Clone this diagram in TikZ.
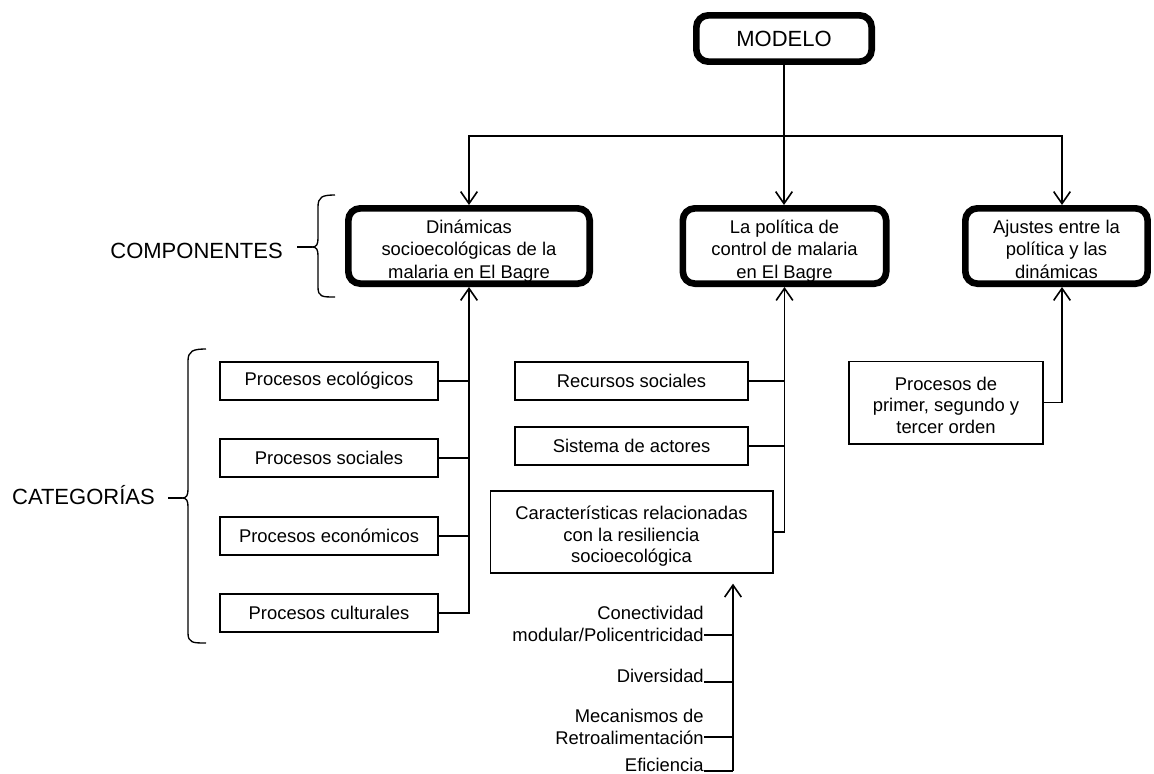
\documentclass[tikz,border=0pt]{standalone}
\usepackage{fontspec}
\setmainfont{Liberation Sans}
\usetikzlibrary{arrows.meta}
\begin{document}
\begin{tikzpicture}[x=0.75pt,y=-0.75pt,
  boxfont/.style={font=\fontsize{13.8}{16.1}\selectfont},
  bigfont/.style={font=\fontsize{16.5}{19}\selectfont},
  comp/.style={draw, line width=5pt, rounded corners=9pt, align=center, inner sep=0pt,
               font=\fontsize{13.8}{16.9}\selectfont, text height=48.4pt, text depth=0pt},
  item/.style={draw, line width=1pt, align=center, inner sep=0pt, boxfont},
  tall/.style={text height=46pt, text depth=0pt},
  lab/.style={align=right, inner sep=0pt, boxfont},
  link/.style={line width=1.2pt},
  arr/.style={link, -{Straight Barb[length=9pt,width=12.5pt]}},
  bracestyle/.style={line width=1pt},
]
\useasboundingbox (0,0) rectangle (1154,774);

% top level
\node[draw, line width=5pt, rounded corners=9pt, inner sep=0pt, bigfont,
      minimum width=131.5pt, minimum height=34.7pt] (modelo) at (784,38.5) {MODELO};

% components
\node[comp, minimum width=181pt, minimum height=56.5pt] (c1) at (469,246)
  {Dinámicas\\socioecológicas de la\\malaria en El Bagre};
\node[comp, minimum width=152.5pt, minimum height=56.5pt] (c2) at (784.5,246)
  {La política de\\control de malaria\\en El Bagre};
\node[comp, minimum width=136.7pt, minimum height=56.5pt] (c3) at (1056.5,246)
  {Ajustes entre la\\política y las\\dinámicas};

% model to components
\coordinate (bus) at (784,136);
\coordinate (c3in) at (1062,136);
\draw[link] (modelo.south) -- (bus);
\draw[arr] (bus) -- (bus |- c2.north);
\draw[arr] (bus) -| (c1.north);
\draw[arr] (bus) -| (c3in |- c3.north);

% categories
\node[item, minimum width=163.5pt, minimum height=28.5pt] (p1) at (329,381) {Procesos ecológicos};
\node[item, minimum width=163.5pt, minimum height=28.5pt] (p2) at (329,458) {Procesos sociales};
\node[item, minimum width=163.5pt, minimum height=28.5pt] (p3) at (329,536) {Procesos económicos};
\node[item, minimum width=163.5pt, minimum height=28.5pt] (p4) at (329,613) {Procesos culturales};
\draw[arr] (p4.east) -| (c1.south);
\draw[link] (p1.east) -- (p1.east -| c1.south);
\draw[link] (p2.east) -- (p2.east -| c1.south);
\draw[link] (p3.east) -- (p3.east -| c1.south);

% policy
\node[item, minimum width=174.75pt, minimum height=28.5pt] (r1) at (631.5,381) {Recursos sociales};
\node[item, minimum width=174.75pt, minimum height=28.5pt] (r2) at (631.5,446) {Sistema de actores};
\node[item, tall, minimum width=212pt, minimum height=61.5pt] (r3) at (631.5,532)
  {Características relacionadas\\con la resiliencia\\socioecológica};
\draw[arr] (r3.east) -| (c2.south);
\draw[link] (r1.east) -- (r1.east -| c2.south);
\draw[link] (r2.east) -- (r2.east -| c2.south);

% adjustments
\node[item, tall, minimum width=145.5pt, minimum height=62pt] (q1) at (946,402.5)
  {Procesos de\\primer, segundo y\\tercer orden};
\draw[arr] (q1.east) -| (c3in |- c3.south);

% resilience features
\node[lab, anchor=base east] (l1) at (704,641) {Conectividad\\modular/Policentricidad};
\node[lab, anchor=base east] (l2) at (704,682) {Diversidad};
\node[lab, anchor=base east] (l3) at (704,744) {Mecanismos de\\Retroalimentación};
\node[lab, anchor=base east] (l4) at (704,771) {Eficiencia};
\coordinate (k1) at (733,635);
\coordinate (k2) at (733,682);
\coordinate (k3) at (733,737);
\coordinate (k4) at (733,771);
\draw[arr, shorten >=7.5pt] (k4) -- (k4 |- r3.south);
\draw[link] (k1 -| l1.east) -- (k1);
\draw[link] (k2 -| l2.east) -- (k2);
\draw[link] (k3 -| l3.east) -- (k3);
\draw[link] (k4 -| l4.east) -- (k4);

% brace labels
\node[bigfont, inner sep=0pt, anchor=base east] (complab) at (283,258) {COMPONENTES};
\node[bigfont, inner sep=0pt, anchor=base east] (catlab) at (155,504) {CATEGORÍAS};

\coordinate (b1) at (312,247);
\draw[bracestyle] (335,195) .. controls (322,195) and (318,197) .. (318,207) -- (318,238)
  .. controls (318,244) and (317,247) .. (b1)
  .. controls (317,247) and (318,250) .. (318,256) -- (318,287)
  .. controls (318,297) and (322,297) .. (335,297);
\draw[bracestyle] (b1) -- ++(-15,0);

\coordinate (b2) at (182,498);
\draw[bracestyle] (206,349) .. controls (193,349) and (188,351) .. (188,361) -- (188,489)
  .. controls (188,495) and (187,498) .. (b2)
  .. controls (187,498) and (188,501) .. (188,507) -- (188,633)
  .. controls (188,643) and (193,643) .. (206,643);
\draw[bracestyle] (b2) -- ++(-14,0);
\end{tikzpicture}
\end{document}
